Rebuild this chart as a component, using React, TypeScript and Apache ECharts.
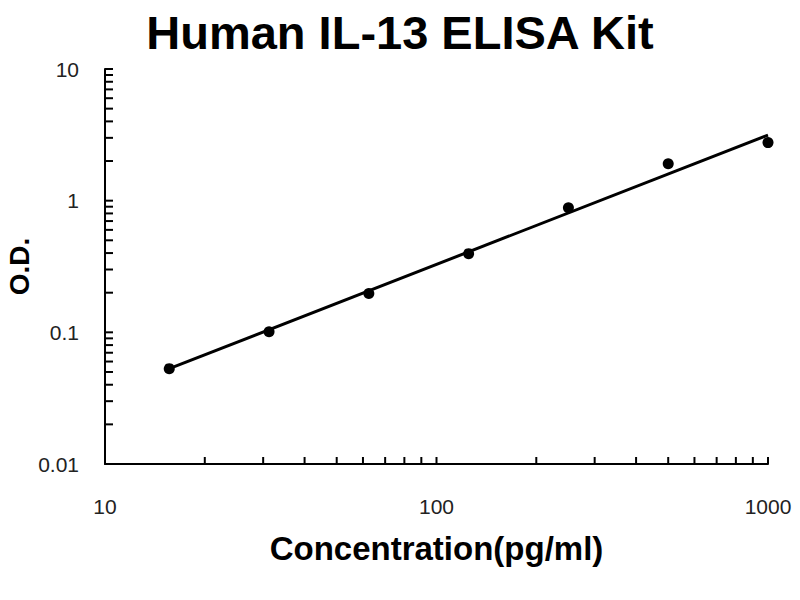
import { useEffect, useRef } from "react";
import * as echarts from "echarts";

const concentrations = [15.625, 31.25, 62.5, 125, 250, 500, 1000];
const odValues = [0.053, 0.101, 0.197, 0.396, 0.885, 1.91, 2.76];

// straight fit line on log-log axes, end points
const fitX = [15.625, 1000];
const fitY = [0.053, 3.15];

const xTicks = [20, 30, 40, 50, 60, 70, 80, 90, 100, 200, 300, 400, 500, 600, 700, 800, 900, 1000];
const yTicks = [
  0.02, 0.03, 0.04, 0.05, 0.06, 0.07, 0.08, 0.09, 0.1,
  0.2, 0.3, 0.4, 0.5, 0.6, 0.7, 0.8, 0.9, 1,
  2, 3, 4, 5, 6, 7, 8, 9, 10,
];

const X_MIN = 10;
const X_MAX = 1000;
const Y_MIN = 0.01;
const Y_MAX = 10;

export default function App() {
  const chartRef = useRef<HTMLDivElement>(null);

  useEffect(() => {
    document.body.style.margin = "0";
    const chart = echarts.init(chartRef.current, null, { renderer: "svg" });

    const options = {
      animation: false,
      backgroundColor: "#ffffff",
      title: {
        text: "Human IL-13 ELISA Kit",
        left: "center",
        top: 4,
        textStyle: {
          fontFamily: "Liberation Sans",
          fontWeight: "bold",
          fontSize: 47,
          color: "#000",
        },
      },
      grid: { left: 105, right: 32, top: 69, bottom: 136, outerBoundsMode: "none" },
      xAxis: {
        type: "log",
        min: X_MIN,
        max: X_MAX,
        logBase: 10,
        name: "Concentration(pg/ml)",
        nameLocation: "middle",
        nameGap: 68,
        nameMoveOverlap: false,
        nameTextStyle: {
          fontFamily: "Liberation Sans",
          fontWeight: "bold",
          fontSize: 33,
          color: "#000",
        },
        axisLine: { lineStyle: { color: "#000", width: 2 } },
        axisTick: { show: false },
        splitLine: { show: false },
        axisLabel: {
          margin: 32,
          fontFamily: "Liberation Sans",
          fontSize: 21,
          color: "#222",
          formatter: (v: number) => String(v),
        },
      },
      yAxis: {
        type: "log",
        min: Y_MIN,
        max: Y_MAX,
        logBase: 10,
        name: "O.D.",
        nameLocation: "middle",
        nameGap: 72,
        nameRotate: 90,
        nameMoveOverlap: false,
        nameTextStyle: {
          fontFamily: "Liberation Sans",
          fontWeight: "bold",
          fontSize: 28,
          color: "#000",
        },
        axisLine: { lineStyle: { color: "#000", width: 2 } },
        axisTick: { show: false },
        splitLine: { show: false },
        axisLabel: {
          margin: 26,
          fontFamily: "Liberation Sans",
          fontSize: 21,
          color: "#222",
          formatter: (v: number) => String(v),
        },
      },
      series: [
        {
          type: "custom",
          silent: true,
          clip: false,
          data: xTicks.map((v) => [v, Y_MIN]),
          renderItem: (_params: any, api: any) => {
            const p = api.coord([api.value(0), Y_MIN]);
            return {
              type: "line",
              shape: { x1: p[0], y1: p[1], x2: p[0], y2: p[1] - 7 },
              style: { stroke: "#000", lineWidth: 2 },
            };
          },
          z: 1,
        },
        {
          type: "custom",
          silent: true,
          clip: false,
          data: yTicks.map((v) => [X_MIN, v]),
          renderItem: (_params: any, api: any) => {
            const p = api.coord([X_MIN, api.value(1)]);
            return {
              type: "line",
              shape: { x1: p[0], y1: p[1], x2: p[0] + 8, y2: p[1] },
              style: { stroke: "#000", lineWidth: 2 },
            };
          },
          z: 1,
        },
        {
          type: "line",
          data: fitX.map((x, i) => [x, fitY[i]]),
          showSymbol: false,
          lineStyle: { color: "#000", width: 3 },
          z: 2,
        },
        {
          type: "scatter",
          data: concentrations.map((x, i) => [x, odValues[i]]),
          symbol: "circle",
          symbolSize: 11,
          itemStyle: { color: "#000", opacity: 1 },
          z: 3,
        },
      ],
    };

    chart.setOption(options);

    return () => {
      chart.dispose();
    };
  }, []);

  return <div ref={chartRef} style={{ width: "800px", height: "600px" }} />;
}
